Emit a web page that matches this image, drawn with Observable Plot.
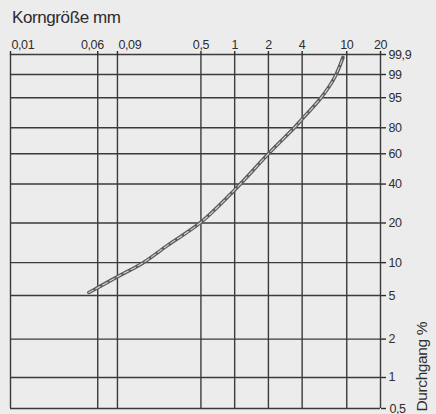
<!DOCTYPE html>
<html><head><meta charset="utf-8">
<script src="https://cdn.jsdelivr.net/npm/d3@7"></script>
<script src="https://cdn.jsdelivr.net/npm/@observablehq/plot@0.6"></script>
<style>
body{margin:0;background:#ececec;}
#wrap{position:relative;width:436px;height:414px;}
#title{position:absolute;left:12px;top:8px;font:17px "Liberation Sans",Arial,sans-serif;letter-spacing:-0.4px;color:#2b2b2b;}
#wrap svg{position:absolute;left:0;top:0;}
</style></head><body><div id="wrap"><div id="title">Korngröße mm</div></div>
<script>
// Grain size curve (Sieblinie): grain size in mm vs. percent passing
const grainSizes = [0.05, 0.06, 0.09, 0.153, 0.25, 0.5, 1, 2, 3.4, 4, 5.96, 7.83, 9.26];
const passing    = [5.47, 6.2, 7.86, 10, 14.3, 20.4, 37, 60, 80, 84.4, 95.1, 98.57, 99.77];
const xTicks = [0.01, 0.06, 0.09, 0.5, 1, 2, 4, 10, 20];
const yTicks = [0.5, 1, 2, 5, 10, 20, 40, 60, 80, 95, 99, 99.9];
// relative heights of the printed percent lines (configuration of the chart's special y scale)
const yStops = [0, 0.0876, 0.196, 0.319, 0.412, 0.524, 0.634, 0.7195, 0.793, 0.878, 0.9435, 1];

const W = 436, H = 414, mt = 54, mb = 6, ml = 10, mr = 56;
const fmt = d => String(d).replace(".", ",");
const data = grainSizes.map((d, i) => ({d, p: passing[i]}));
const font = '"Liberation Sans",Arial,sans-serif';
const gridStyle = {stroke: "#3b3b3b", strokeOpacity: 1, strokeWidth: 1.4};
const lab = {fill: "#2e2e2e", fontSize: 12.5, fontFamily: font, text: fmt};

const chart = Plot.plot({
  width: W, height: H,
  marginTop: mt, marginBottom: mb, marginLeft: ml, marginRight: mr,
  style: {background: "transparent", fontFamily: font, fontSize: "12.5px", color: "#2e2e2e", letterSpacing: "-0.4px"},
  x: {type: "log", domain: [0.01, 20]},
  y: {type: "linear", domain: yTicks, range: yStops.map(f => H - mb - f * (H - mt - mb))},
  marks: [
    Plot.gridX(xTicks, gridStyle),
    Plot.gridY(yTicks, gridStyle),
    Plot.axisX(xTicks, {anchor: "top", tickSize: 4, tickFormat: () => "", label: null, strokeWidth: 1.4}),
    Plot.axisY(yTicks, {anchor: "right", tickSize: 5, tickFormat: () => "", label: null, strokeWidth: 1.4}),
    // top tick labels
    Plot.text([0.5, 1, 2, 4, 10, 20], {...lab, x: d => d, frameAnchor: "top", lineAnchor: "bottom", dy: -6}),
    Plot.text([0.01, 0.09], {...lab, x: d => d, frameAnchor: "top", lineAnchor: "bottom", textAnchor: "start", dy: -6, dx: 1}),
    Plot.text([0.06], {...lab, x: d => d, frameAnchor: "top", lineAnchor: "bottom", textAnchor: "end", dy: -6, dx: 6}),
    // right tick labels
    Plot.text(yTicks.slice(1), {...lab, y: d => d, frameAnchor: "right", textAnchor: "start", dx: 8}),
    Plot.text(yTicks.slice(0, 1), {...lab, y: d => d, frameAnchor: "right", textAnchor: "start", lineAnchor: "bottom", dx: 9, dy: 4}),
    // grain size curve
    Plot.line(data, {x: "d", y: "p", curve: "catmull-rom", stroke: "#5c5c5c", strokeWidth: 3.6}),
    Plot.line(data, {x: "d", y: "p", curve: "catmull-rom", stroke: "#d4d4d4", strokeWidth: 1.1, strokeDasharray: "5 3"}),
    Plot.text(["Durchgang %"], {text: d => d, frameAnchor: "bottom-right", rotate: -90, textAnchor: "start",
      dx: 46, dy: 3, fontSize: 15.5, fontFamily: font, fill: "#2e2e2e"})
  ]
});
document.getElementById("wrap").appendChild(chart);
</script></body></html>
